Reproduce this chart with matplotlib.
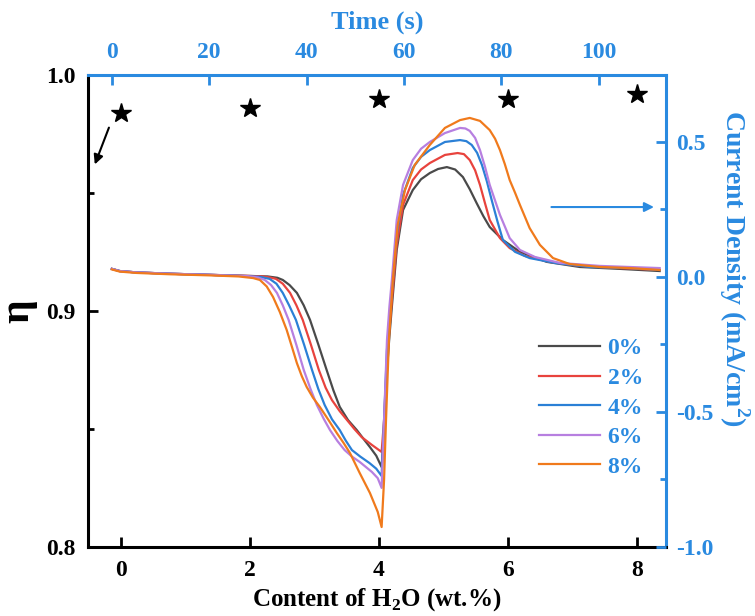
import matplotlib
matplotlib.use("Agg")
import matplotlib.pyplot as plt
from matplotlib.ticker import MultipleLocator

# ---------------------------------------------------------------------------
# Daten
# ---------------------------------------------------------------------------

# Sterne: Wirkungsgrad eta ueber Wassergehalt
h2o_content = [0, 2, 4, 6, 8]
eta = [0.984, 0.986, 0.990, 0.990, 0.992]

# Stromdichte-Kurven ueber Zeit (s), mA/cm^2
t_0 = [0, 1.6, 5, 12, 20, 28, 32, 34.0, 35.1, 36.5, 38.0, 39.4, 40.7, 42.4, 44.1,
       45.5, 46.8, 48.5, 50.3, 51.7, 53.0, 54.3, 55.4,
       55.9, 56.5, 57.0, 57.5, 58.5, 59.8, 61.8, 63.5, 65.3, 67.0, 68.8, 70.5,
       72.1, 73.5, 74.9, 76.3, 77.6, 80.3, 83.8, 89.3, 96.1, 104.3, 112.5]
j_0 = [0.030, 0.022, 0.017, 0.012, 0.008, 0.004, 0.002, -0.003, -0.011, -0.030,
       -0.059, -0.105, -0.159, -0.250, -0.344, -0.420, -0.481, -0.530, -0.567,
       -0.600, -0.630, -0.662, -0.704,
       -0.567, -0.344, -0.220, -0.111, 0.100, 0.248, 0.322, 0.362, 0.385, 0.400,
       0.407, 0.398, 0.370, 0.325, 0.274, 0.225, 0.185, 0.137, 0.093, 0.056,
       0.037, 0.030, 0.022]

t_2 = [0, 1.6, 5, 12, 20, 28, 31, 32.5, 33.7, 35.1, 36.6, 37.9, 39.2, 40.9,
       42.5, 43.9, 45.2, 46.8, 48.3, 49.8, 51.3, 53.4, 55.4,
       55.9, 56.5, 57.0, 57.5, 58.5, 59.8, 61.8, 63.5, 65.3, 68.4, 71.0, 72.3,
       73.5, 74.6, 75.6, 76.6, 77.6, 79.7, 81.7, 84.8, 89.9, 96.1, 104.3, 112.5]
j_2 = [0.030, 0.022, 0.017, 0.012, 0.008, 0.004, 0.002, -0.002, -0.007, -0.025,
       -0.059, -0.105, -0.159, -0.252, -0.344, -0.410, -0.456, -0.497, -0.530,
       -0.563, -0.593, -0.622, -0.648,
       -0.530, -0.307, -0.190, -0.085, 0.119, 0.267, 0.359, 0.398, 0.422, 0.452,
       0.459, 0.455, 0.433, 0.395, 0.341, 0.275, 0.211, 0.144, 0.107, 0.078,
       0.056, 0.041, 0.033, 0.026]

t_4 = [0, 1.6, 5, 12, 20, 28, 30.5, 32.4, 33.8, 35.1, 36.4, 37.8, 39.5, 41.1,
       42.4, 43.7, 45.2, 46.8, 48.0, 49.3, 51.0, 52.9, 54.3, 55.4,
       55.9, 56.5, 57.0, 57.5, 58.5, 59.8, 61.8, 63.5, 65.3, 68.4, 71.5, 72.8,
       73.9, 75.0, 76.0, 77.0, 78.0, 79.2, 80.3, 82.8, 85.8, 91.0, 98.2, 106.4,
       112.5]
j_4 = [0.030, 0.022, 0.017, 0.012, 0.008, 0.003, 0.000, -0.007, -0.025, -0.059,
       -0.105, -0.159, -0.252, -0.344, -0.415, -0.474, -0.527, -0.567, -0.605,
       -0.641, -0.665, -0.689, -0.710, -0.737,
       -0.530, -0.270, -0.150, -0.048, 0.156, 0.304, 0.404, 0.445, 0.470, 0.500,
       0.507, 0.503, 0.489, 0.460, 0.415, 0.355, 0.285, 0.205, 0.137, 0.093,
       0.070, 0.052, 0.037, 0.033, 0.026]

t_6 = [0, 1.6, 5, 12, 20, 28, 30.0, 31.4, 32.7, 33.9, 35.1, 36.3, 37.9, 39.4,
       40.8, 42.1, 43.5, 44.8, 46.3, 47.8, 49.3, 50.9, 53.4, 54.6, 55.4,
       55.9, 56.5, 57.0, 57.5, 58.5, 59.8, 61.8, 63.5, 65.3, 68.4, 71.5, 72.6,
       73.5, 74.6, 75.6, 76.6, 77.6, 79.7, 81.7, 83.8, 86.9, 92.0, 100.2, 112.5]
j_6 = [0.030, 0.022, 0.017, 0.012, 0.008, 0.003, -0.002, -0.011, -0.030,
       -0.059, -0.105, -0.159, -0.252, -0.344, -0.415, -0.474, -0.525, -0.567,
       -0.607, -0.641, -0.665, -0.685, -0.722, -0.745, -0.781,
       -0.530, -0.233, -0.110, -0.011, 0.211, 0.341, 0.433, 0.475, 0.500, 0.533,
       0.552, 0.550, 0.541, 0.515, 0.470, 0.410, 0.341, 0.230, 0.144, 0.100,
       0.074, 0.052, 0.041, 0.033]

t_8 = [0, 1.6, 5, 12, 20, 26, 29.0, 30.4, 31.8, 33.1, 34.5, 35.9, 37.0, 38.0,
       39.0, 40.0, 41.3, 42.7, 44.5, 46.2, 47.6, 48.9, 50.9, 53.0, 54.6, 55.4,
       55.9, 56.3, 56.9, 57.7, 58.7, 60.2, 62.2, 65.3, 68.4, 71.5, 73.5, 75.6,
       77.6, 78.7, 79.7, 80.7, 81.7, 82.8, 83.8, 85.8, 87.9, 90.6, 94.0, 100.2,
       106.4, 112.5]
j_8 = [0.028, 0.020, 0.015, 0.010, 0.006, 0.002, -0.004, -0.011, -0.035,
       -0.074, -0.130, -0.196, -0.260, -0.319, -0.367, -0.407, -0.447, -0.481,
       -0.530, -0.578, -0.615, -0.652, -0.726, -0.800, -0.870, -0.926,
       -0.752, -0.530, -0.233, -0.011, 0.193, 0.322, 0.415, 0.489, 0.552, 0.581,
       0.589, 0.578, 0.544, 0.512, 0.470, 0.418, 0.359, 0.312, 0.267, 0.181,
       0.119, 0.070, 0.048, 0.037, 0.033, 0.026]

labels = ["0%", "2%", "4%", "6%", "8%"]
colors = ["#4a4a4a", "#e8433d", "#2b80d6", "#b77fe0", "#f07a1c"]

BLUE = "#2a8ae0"
FONT = "Liberation Serif"

plt.rcParams["font.family"] = [FONT, "DejaVu Serif"]
plt.rcParams["font.weight"] = "bold"
plt.rcParams["axes.unicode_minus"] = False
plt.rcParams["mathtext.fontset"] = "custom"
plt.rcParams["mathtext.rm"] = FONT + ":bold"
plt.rcParams["mathtext.bf"] = FONT + ":bold"

fig = plt.figure(figsize=(7.55, 6.16), dpi=100)
pos = [88 / 755, 69 / 616, 578 / 755, 472 / 616]
ax = fig.add_axes(pos)
axc = fig.add_axes(pos, frameon=False)

# ---------------------------------------------------------------------------
# Hauptachse: eta ueber H2O-Gehalt
# ---------------------------------------------------------------------------
ax.plot(h2o_content, eta, linestyle="none", marker="*", markersize=15,
        color="black")
ax.set_xlim(-0.51, 8.45)
ax.set_ylim(0.8, 1.0)
ax.xaxis.set_major_locator(MultipleLocator(2))
ax.yaxis.set_major_locator(MultipleLocator(0.1))
ax.yaxis.set_minor_locator(MultipleLocator(0.05))
ax.tick_params(axis="both", which="major", direction="in", length=7, width=2,
               labelsize=17, pad=9)
ax.tick_params(axis="y", which="minor", direction="in", length=4, width=2)
for s in ("left", "bottom"):
    ax.spines[s].set_linewidth(2.2)
    ax.spines[s].set_color("black")
for s in ("top", "right"):
    ax.spines[s].set_linewidth(2.2)
    ax.spines[s].set_color(BLUE)
ax.set_xlabel("Content of H$_2$O (wt.%)", fontsize=18, fontweight="bold",
              labelpad=4)
ax.set_ylabel("η", fontsize=30, fontweight="bold", labelpad=6)

ax.annotate("", xy=(-0.42, 0.961), xytext=(-0.17, 0.9788),
            arrowprops=dict(arrowstyle="-|>", color="black", lw=1.5,
                            mutation_scale=14))

# ---------------------------------------------------------------------------
# Zweitachse: Stromdichte ueber Zeit
# ---------------------------------------------------------------------------
series = [(t_0, j_0), (t_2, j_2), (t_4, j_4), (t_6, j_6), (t_8, j_8)]
for (t, j), lab, c in zip(series, labels, colors):
    axc.plot(t, j, color=c, lw=1.6, label=lab)

axc.set_xlim(-4.9, 113.8)
axc.set_ylim(-1.0, 0.748)
axc.xaxis.tick_top()
axc.xaxis.set_label_position("top")
axc.yaxis.tick_right()
axc.yaxis.set_label_position("right")
axc.xaxis.set_major_locator(MultipleLocator(20))
axc.yaxis.set_major_locator(MultipleLocator(0.5))
axc.yaxis.set_minor_locator(MultipleLocator(0.25))
axc.tick_params(axis="both", which="major", direction="in", length=7, width=2,
                labelsize=17, colors=BLUE, pad=9)
axc.tick_params(axis="y", which="major", pad=7)
axc.tick_params(axis="y", which="minor", direction="in", length=4, width=2,
                colors=BLUE)
axc.set_xlabel("Time (s)", fontsize=19, fontweight="bold", color=BLUE,
               labelpad=9)
axc.set_ylabel("Current Density (mA/cm$^2$)", fontsize=20, fontweight="bold",
               color=BLUE, rotation=270, va="center", ha="center")
axc.yaxis.set_label_coords(1.118, 0.59)

axc.annotate("", xy=(111.9, 0.259), xytext=(89.7, 0.259),
             arrowprops=dict(arrowstyle="-|>", color=BLUE, lw=1.5,
                             mutation_scale=14))

leg = axc.legend(loc="upper left", bbox_to_anchor=(0.76, 0.468), frameon=False,
                 fontsize=17, handlelength=2.6, handletextpad=0.3,
                 labelspacing=0.34, borderpad=0)
for txt in leg.get_texts():
    txt.set_color(BLUE)

fig.savefig("out.png", dpi=100)
